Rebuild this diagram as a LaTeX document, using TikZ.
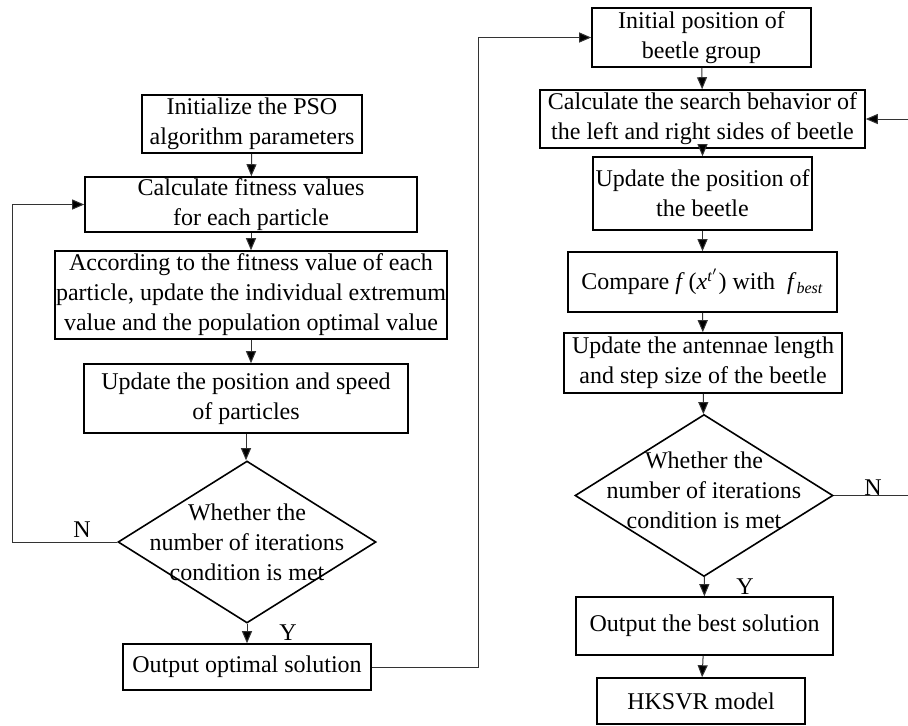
\documentclass[tikz,border=0pt]{standalone}
\usepackage{fontspec}
\setmainfont{Liberation Serif}
\usetikzlibrary{shapes.geometric,arrows.meta}

\begin{document}
\begin{tikzpicture}[x=0.5pt,y=-0.5pt,
  box/.style={draw, line width=0.8pt, align=center, inner sep=0pt, font=\fontsize{12}{15}\selectfont},
  decision/.style={draw, diamond, line width=0.8pt, inner sep=0pt, minimum width=129pt, minimum height=81pt},
  flow/.style={line width=0.5pt, draw=black!80, -{Triangle[length=6pt,width=5pt,fill=black]}},
  yn/.style={font=\fontsize{12}{15}\selectfont}]
\useasboundingbox (0,0) rectangle (908,725);
\clip (0,0) rectangle (908,725);
\node[box, minimum width=110pt, minimum height=29pt] (init) at (252,124) {Initialize the PSO\\algorithm parameters};
\node[box, minimum width=166pt, minimum height=27.5pt] (fitness) at (251,204.5) {Calculate fitness values\\for each particle};
\node[box, minimum width=196pt, minimum height=44pt] (extremum) at (251,295) {According to the fitness value of each\\particle, update the individual extremum\\value and the population optimal value};
\node[box, minimum width=162pt, minimum height=34.5pt] (speed) at (246,398.5) {Update the position and speed\\of particles};
\node[decision, label={[align=center, yn]center:Whether the\\number of iterations\\condition is met}] (iter1) at (247,542) {};
\node[box, minimum width=124pt, minimum height=23pt] (optimal) at (247,667) {Output optimal solution};
\node[box, minimum width=109.5pt, minimum height=29.5pt] (group) at (701.5,37.5) {Initial position of\\beetle group};
\node[box, minimum width=162.5pt, minimum height=29pt] (search) at (702.5,119) {Calculate the search behavior of\\the left and right sides of beetle};
\node[box, minimum width=109.5pt, minimum height=36.5pt] (beetle) at (702.5,193.5) {Update the position of\\the beetle};
\node[box, minimum width=134.5pt, minimum height=30pt] (compare) at (702.5,282) {Compare \textit{f}\,(\textit{x}\textsuperscript{\textit{t}$'$}) with\ \ \textit{f}\textsubscript{\textit{best}}};
\node[box, minimum width=139pt, minimum height=30pt] (antennae) at (703,363) {Update the antennae length\\and step size of the beetle};
\node[decision, label={[align=center, yn, yshift=2.5pt]center:Whether the\\number of iterations\\condition is met}] (iter2) at (704,495.5) {};
\node[box, minimum width=128.5pt, minimum height=29pt] (best) at (704.5,626) {Output the best solution};
\node[box, minimum width=104pt, minimum height=23pt] (hksvr) at (701,701) {HKSVR model};
\coordinate (lbend) at (12,542);
\coordinate (mbend) at (478,667);
\coordinate (rbend) at (914,495.5);
\draw[flow] (init) -- (fitness);
\draw[flow] (fitness) -- (extremum);
\draw[flow] (extremum.south) -- (extremum.south |- speed.north);
\draw[flow] (speed.south) -- (speed.south |- iter1.north);
\draw[flow] (iter1) -- (optimal);
\draw[flow] (iter1.west) -- (lbend) |- (fitness.west);
\draw[flow] (optimal.east) -- (mbend) |- (group.west);
\draw[flow] (group) -- (search);
\draw[flow] (search) -- (beetle);
\draw[flow] (beetle) -- (compare);
\draw[flow] (compare) -- (antennae);
\draw[flow] (antennae) -- (iter2);
\draw[flow] (iter2) -- (best);
\draw[flow] (best) -- (hksvr);
\draw[flow] (iter2.east) -- (rbend) |- (search.east);
\node[yn] (n1) at (82,530) {N};
\node[yn] (y1) at (288,633) {Y};
\node[yn] (n2) at (873,488) {N};
\node[yn] (y2) at (745,587) {Y};
\end{tikzpicture}
\end{document}
